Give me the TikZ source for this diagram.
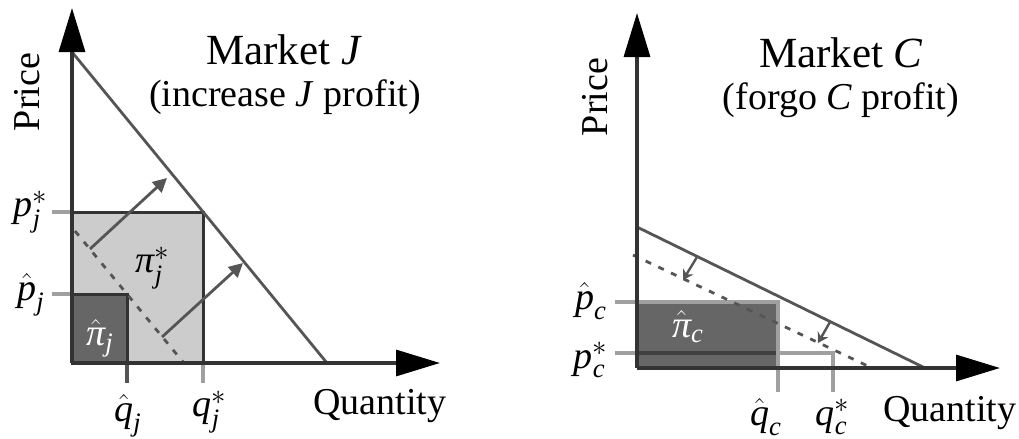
\documentclass[tikz,border=0pt]{standalone}
\usepackage{amsmath}
\usepackage{fontspec}
\setmainfont{Liberation Serif}
\usetikzlibrary{arrows.meta}
\definecolor{lightfill}{HTML}{CCCCCC}
\definecolor{darkfill}{HTML}{666666}
\definecolor{edgecol}{HTML}{333333}
\definecolor{linecol}{HTML}{555555}
\definecolor{tickcol}{HTML}{A0A0A0}
\newcommand{\mi}[1]{\textit{#1}}
\tikzset{
  axisline/.style={line width=1.6pt, draw=black!80, -{Triangle[length=22pt,width=13pt,color=black]}},
  demandline/.style={line width=1.4pt, draw=linecol},
  dashline/.style={line width=1.4pt, draw=linecol, dash pattern=on 3pt off 4pt},
  tickline/.style={line width=1.6pt, draw=tickcol},
  shiftarrow/.style={line width=1.4pt, draw=linecol, -{Triangle[length=7pt,width=7pt]}},
  smallarrow/.style={line width=1.2pt, draw=linecol, -{Stealth[length=5pt,width=6pt]}},
  lbl/.style={font=\fontsize{19}{22}\selectfont, inner sep=0pt},
  titlelbl/.style={font=\fontsize{21.5}{24}\selectfont, inner sep=0pt},
  boxedge/.style={line width=1.5pt, draw=edgecol}
}
\begin{document}
\begin{tikzpicture}[x=0.5pt,y=-0.5pt]
\useasboundingbox (0,0) rectangle (1019,439);
% ---------------- Market J ----------------
\coordinate (jO) at (72,363);
\coordinate (jY) at (72,8);
\coordinate (jX) at (440,363);
\coordinate (jPs) at (72,212);
\coordinate (jPh) at (72,294);
\coordinate (jQs) at (203,363);
\coordinate (jQh) at (127,363);
\coordinate (jStar) at (203,212);
\coordinate (jHat) at (127,294);
\coordinate (jPsL) at (52,212);
\coordinate (jPhL) at (52,294);
\coordinate (jQsB) at (203,383);
\coordinate (jQhB) at (127,383);
\coordinate (jD1) at (72,52);
\coordinate (jD2) at (327,363);
\coordinate (jE1) at (75,231);
\coordinate (jE2) at (183,362);
\coordinate (jA1s) at (90,249);
\coordinate (jA1e) at (167,178);
\coordinate (jA2s) at (162,337);
\coordinate (jA2e) at (243,263);
\filldraw[fill=lightfill, boxedge] (jPs) rectangle (jQs);
\filldraw[fill=darkfill, boxedge] (jPh) rectangle (jQh);
\draw[tickline] (jPsL) -- (jPs);
\draw[tickline] (jPhL) -- (jPh);
\draw[tickline, draw=linecol] (jQh) -- (jQhB);
\draw[tickline] (jQs) -- (jQsB);
\draw[dashline] (jE1) -- (jE2);
\draw[demandline] (jD1) -- (jD2);
\draw[shiftarrow] (jA1s) -- (jA1e);
\draw[shiftarrow] (jA2s) -- (jA2e);
\draw[axisline] (jO) -- (jY);
\draw[axisline] (jO) -- (jX);
\node[lbl, rotate=90] (jPrice) at (27,92) {Price};
\node[titlelbl] (jT1) at (284,50) {Market \mi{J}};
\node[lbl] (jT2) at (285,97) {(increase \mi{J} profit)};
\node[lbl] (jLps) at (31,212) {$\mi{p}_{\mi{j}}^{*}$};
\node[lbl] (jLph) at (31,295) {$\hat{\mi{p}}_{\mi{j}}$};
\node[lbl] (jLpis) at (153,268) {$\mi{π}_{\mi{j}}^{*}$};
\node[lbl, text=white] (jLpih) at (100,338) {$\hat{\mi{π}}_{\mi{j}}$};
\node[lbl] (jLqh) at (128,416) {$\hat{\mi{q}}_{\mi{j}}$};
\node[lbl] (jLqs) at (210,412) {$\mi{q}_{\mi{j}}^{*}$};
\node[lbl] (jQty) at (380,406) {Quantity};
% ---------------- Market C ----------------
\coordinate (cO) at (637,368);
\coordinate (cY) at (637,13);
\coordinate (cX) at (1000,368);
\coordinate (cPhL) at (615,302);
\coordinate (cHat) at (778,302);
\coordinate (cQhB) at (778,392);
\coordinate (cPsL) at (615,353);
\coordinate (cStar) at (833,353);
\coordinate (cQsB) at (833,392);
\coordinate (cD1) at (637,227);
\coordinate (cD2) at (925,368);
\coordinate (cE1) at (633,255);
\coordinate (cE2) at (872,368);
\coordinate (cA1s) at (697,257);
\coordinate (cA1e) at (683,280);
\coordinate (cA2s) at (830,322);
\coordinate (cA2e) at (818,343);
\coordinate (cRectA) at (637,302);
\draw[tickline] (cPsL) -- (cStar) -- (cQsB);
\fill[black, fill opacity=0.6] (cRectA) rectangle (cHat |- cO);
\draw[tickline] (cPhL) -- (cHat) -- (cQhB);
\draw[dashline] (cE1) -- (cE2);
\draw[demandline] (cD1) -- (cD2);
\draw[smallarrow] (cA1s) -- (cA1e);
\draw[smallarrow] (cA2s) -- (cA2e);
\draw[axisline] (cO) -- (cY);
\draw[axisline] (cO) -- (cX);
\node[lbl, rotate=90] (cPrice) at (595,97) {Price};
\node[titlelbl] (cT1) at (841,53) {Market \mi{C}};
\node[lbl] (cT2) at (841,100) {(forgo \mi{C} profit)};
\node[lbl] (cLph) at (591,301) {$\hat{\mi{p}}_{\mi{c}}$};
\node[lbl] (cLps) at (591,360) {$\mi{p}_{\mi{c}}^{*}$};
\node[lbl, text=white] (cLpih) at (688,327) {$\hat{\mi{π}}_{\mi{c}}$};
\node[lbl] (cLqh) at (766,417) {$\hat{\mi{q}}_{\mi{c}}$};
\node[lbl] (cLqs) at (833,417) {$\mi{q}_{\mi{c}}^{*}$};
\node[lbl] (cQty) at (950,413) {Quantity};
\end{tikzpicture}
\end{document}
